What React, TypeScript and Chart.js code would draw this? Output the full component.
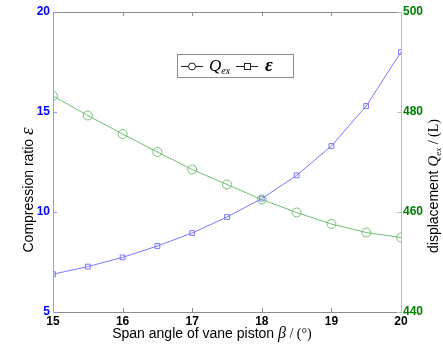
import React, { useEffect, useRef } from "react";
import { Chart, registerables } from "chart.js";

Chart.register(...registerables);

const angles = [15, 15.5, 16, 16.5, 17, 17.5, 18, 18.5, 19, 19.5, 20];
const qexValues = [483.2, 479.3, 475.6, 472.0, 468.5, 465.5, 462.5, 459.9, 457.6, 455.9, 454.9];
const epsValues = [6.89, 7.27, 7.73, 8.3, 8.95, 9.75, 10.67, 11.83, 13.3, 15.3, 18.0];
const xTicks = [15, 16, 17, 18, 19, 20];
const leftTicks = [5, 10, 15, 20];
const rightTicks = [440, 460, 480, 500];

const SANS = "'Liberation Sans', Arial, sans-serif";
const SERIF = "'Liberation Serif', 'Times New Roman', serif";
const BLUE_LINE = "rgb(120,120,255)";
const GREEN_LINE = "rgb(115,190,115)";

type Seg = { t: string; f: string; dy?: number };

function drawSegs(ctx: CanvasRenderingContext2D, segs: Seg[], cx: number, cy: number, rot: number, align: "center" | "left" = "center") {
  ctx.save();
  ctx.translate(cx, cy);
  ctx.rotate(rot);
  ctx.textBaseline = "alphabetic";
  ctx.textAlign = "left";
  let total = 0;
  for (const s of segs) {
    ctx.font = s.f;
    total += ctx.measureText(s.t).width;
  }
  let x = align === "center" ? -total / 2 : 0;
  for (const s of segs) {
    ctx.font = s.f;
    ctx.fillStyle = "#000";
    ctx.fillText(s.t, x, s.dy || 0);
    x += ctx.measureText(s.t).width;
  }
  ctx.restore();
}

const framePlugin = {
  id: "frame",
  afterDraw(chart: any) {
    const ctx: CanvasRenderingContext2D = chart.ctx;
    const { left, right, top, bottom } = chart.chartArea;
    const xs = chart.scales.x;
    const yl = chart.scales.y;
    const yr = chart.scales.y1;
    ctx.save();
    ctx.lineWidth = 1;
    ctx.strokeStyle = "#8c8c8c";
    ctx.beginPath();
    ctx.moveTo(left, top + 0.5);
    ctx.lineTo(right, top + 0.5);
    ctx.moveTo(left, bottom + 0.5);
    ctx.lineTo(right, bottom + 0.5);
    for (const v of xTicks) {
      const px = Math.round(xs.getPixelForValue(v)) + 0.5;
      ctx.moveTo(px, bottom);
      ctx.lineTo(px, bottom - 4);
      ctx.moveTo(px, top);
      ctx.lineTo(px, top + 4);
    }
    ctx.stroke();
    ctx.strokeStyle = "rgb(150,150,255)";
    ctx.beginPath();
    ctx.moveTo(left + 0.5, top);
    ctx.lineTo(left + 0.5, bottom + 1);
    for (const v of leftTicks) {
      const py = Math.round(yl.getPixelForValue(v)) + 0.5;
      ctx.moveTo(left, py);
      ctx.lineTo(left + 4, py);
    }
    ctx.stroke();
    ctx.strokeStyle = "rgb(160,210,160)";
    ctx.beginPath();
    ctx.moveTo(right + 0.5, top);
    ctx.lineTo(right + 0.5, bottom + 1);
    for (const v of rightTicks) {
      const py = Math.round(yr.getPixelForValue(v)) + 0.5;
      ctx.moveTo(right, py);
      ctx.lineTo(right - 4, py);
    }
    ctx.stroke();

    drawSegs(ctx, [
      { t: "Compression ratio ", f: `14px ${SANS}` },
      { t: "ε", f: `italic 19px ${SERIF}` },
    ], 33, 190, -Math.PI / 2);
    drawSegs(ctx, [
      { t: "displacement ", f: `14px ${SANS}` },
      { t: "Q", f: `italic 15px ${SERIF}` },
      { t: "ex", f: `italic 9px ${SERIF}`, dy: 3 },
      { t: " / (L)", f: `14px ${SERIF}` },
    ], 438, 186, -Math.PI / 2);
    drawSegs(ctx, [
      { t: "Span angle of vane piston ", f: `14px ${SANS}` },
      { t: "β", f: `italic 16px ${SERIF}` },
      { t: " / (°)", f: `14px ${SERIF}` },
    ], 212, 338, 0);

    const lx = 177, ly = 54, lw = 116, lh = 23;
    ctx.fillStyle = "#fff";
    ctx.fillRect(lx, ly, lw, lh);
    ctx.strokeStyle = "#8c8c8c";
    ctx.strokeRect(lx + 0.5, ly + 0.5, lw, lh);
    const my = ly + 12;
    ctx.strokeStyle = "#222";
    ctx.beginPath();
    ctx.moveTo(181, my + 0.5);
    ctx.lineTo(203, my + 0.5);
    ctx.moveTo(236, my + 0.5);
    ctx.lineTo(258, my + 0.5);
    ctx.stroke();
    ctx.fillStyle = "#fff";
    ctx.beginPath();
    ctx.arc(192, my + 0.5, 3.5, 0, Math.PI * 2);
    ctx.fill();
    ctx.stroke();
    ctx.fillRect(244, my - 2.5, 6, 6);
    ctx.strokeRect(244.5, my - 2.5, 6, 6);
    drawSegs(ctx, [
      { t: "Q", f: `italic 17px ${SERIF}` },
      { t: "ex", f: `italic 10px ${SERIF}`, dy: 3 },
    ], 209, my + 5, 0, "left");
    drawSegs(ctx, [{ t: "ε", f: `italic bold 19px ${SERIF}` }], 265, my + 5, 0, "left");
    ctx.restore();
  },
};

export default function App() {
  const ref = useRef<HTMLCanvasElement | null>(null);
  useEffect(() => {
    if (!ref.current) return;
    const noGrid = { display: false, drawTicks: false, tickLength: 0 };
    const chart = new Chart(ref.current, {
      type: "line",
      data: {
        datasets: [
          {
            label: "Qex",
            data: angles.map((a, i) => ({ x: a, y: qexValues[i] })),
            yAxisID: "y1",
            borderColor: GREEN_LINE,
            backgroundColor: "rgba(0,0,0,0)",
            borderWidth: 1,
            pointStyle: "circle",
            pointRadius: 4.5,
            pointBorderColor: GREEN_LINE,
            pointBorderWidth: 1,
            tension: 0,
          },
          {
            label: "eps",
            data: angles.map((a, i) => ({ x: a, y: epsValues[i] })),
            yAxisID: "y",
            borderColor: BLUE_LINE,
            backgroundColor: "rgba(0,0,0,0)",
            borderWidth: 1,
            pointStyle: "rect",
            pointRadius: 3.4,
            pointBorderColor: BLUE_LINE,
            pointBorderWidth: 1,
            tension: 0,
          },
        ],
      },
      options: {
        animation: false,
        responsive: false,
        devicePixelRatio: 1,
        layout: { padding: { top: 12, left: 0, right: 0, bottom: 0 } },
        plugins: { legend: { display: false }, tooltip: { enabled: false } },
        scales: {
          x: {
            type: "linear",
            min: 15,
            max: 20,
            grid: noGrid,
            border: { display: false },
            ticks: {
              stepSize: 1,
              padding: 2,
              color: "#000",
              font: { family: SANS, size: 12, weight: "bold" },
            },
            afterFit: (s: any) => { s.height = 38; },
          },
          y: {
            type: "linear",
            position: "left",
            min: 5,
            max: 20,
            grid: noGrid,
            border: { display: false },
            ticks: {
              stepSize: 5,
              padding: 3,
              color: "#0000ff",
              font: { family: SANS, size: 12, weight: "bold" },
            },
            afterFit: (s: any) => { s.width = 53; },
          },
          y1: {
            type: "linear",
            position: "right",
            min: 440,
            max: 500,
            grid: noGrid,
            border: { display: false },
            ticks: {
              stepSize: 20,
              padding: 2,
              color: "#008000",
              font: { family: SANS, size: 12, weight: "bold" },
            },
            afterFit: (s: any) => { s.width = 42; },
          },
        },
      },
      plugins: [framePlugin],
    } as any);
    return () => chart.destroy();
  }, []);
  return (
    <div style={{ position: "absolute", left: 0, top: 0, width: 443, height: 350, background: "#fff" }}>
      <canvas ref={ref} width={443} height={350} />
    </div>
  );
}
